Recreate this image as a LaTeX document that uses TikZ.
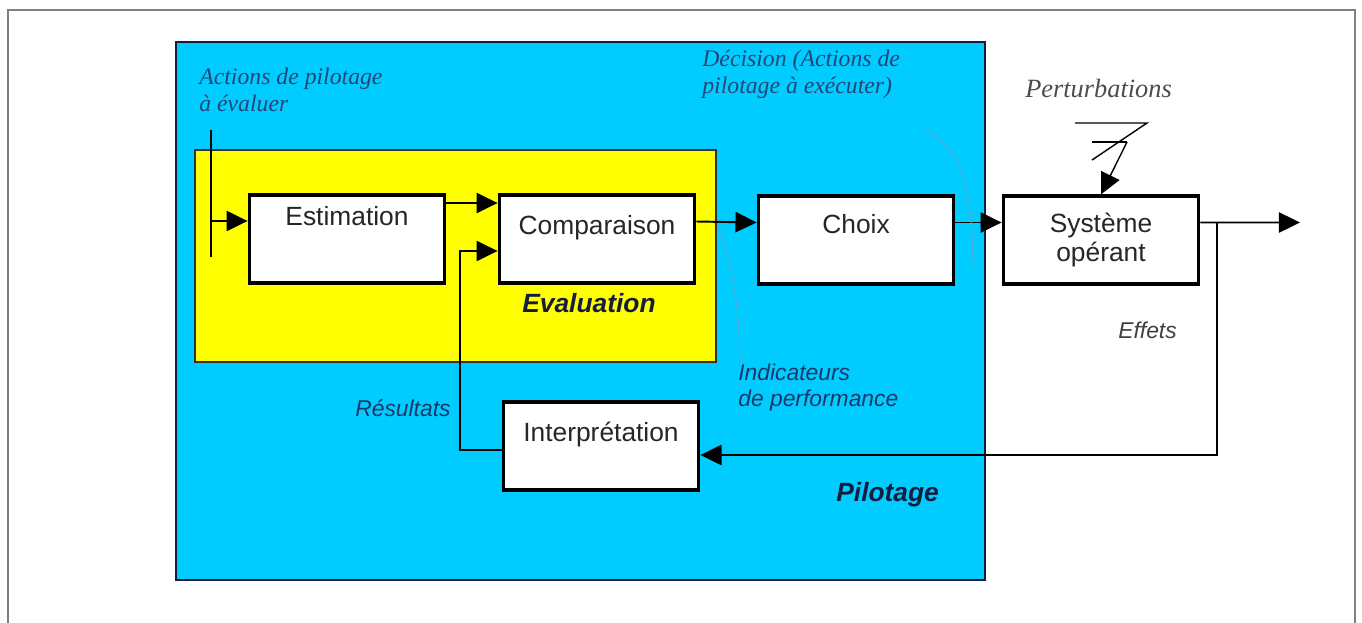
\documentclass[tikz,border=0pt]{standalone}
\usepackage{fontspec}
\setmainfont{Liberation Serif}
\setsansfont{Liberation Sans}
\usetikzlibrary{arrows.meta}

\definecolor{bleupilot}{RGB}{0,204,255}
\definecolor{jauneeval}{RGB}{255,255,0}
\definecolor{encre}{RGB}{35,70,120}
\definecolor{encresans}{RGB}{25,55,105}
\definecolor{marine}{RGB}{20,30,60}
\definecolor{filbleu}{RGB}{80,170,215}

\begin{document}
\begin{tikzpicture}[x=0.02cm, y=-0.02cm,
	boite/.style={draw=black, line width=2.2pt, fill=white, inner sep=0pt, minimum width=3.9cm, minimum height=1.75cm, text=black!85, font=\sffamily\fontsize{15}{16}\selectfont},
	bloc/.style={boite, text height=0.78cm, text depth=0.97cm},
	fleche/.style={-{Triangle[length=12pt, width=11.5pt]}, line width=1.1pt},
	trait/.style={line width=1.1pt},
	fil/.style={filbleu, line width=0.6pt},
	legende/.style={inner sep=0pt, font=\itshape\fontsize{13.5}{15.3}\selectfont, text=encre, align=left},
	note/.style={inner sep=0pt, font=\sffamily\itshape\fontsize{13}{14.7}\selectfont, text=encresans, align=left},
	titre/.style={inner sep=0pt, font=\sffamily\bfseries\itshape\fontsize{15}{16}\selectfont, text=marine}]

	\useasboundingbox (0,0) rectangle (1362,622);
	\draw[gray, line width=1.2pt] (8,10) rectangle (1355,660);
	\draw[fill=bleupilot, draw=marine, line width=1.2pt] (176,42) rectangle (985,580);
	\draw[fill=jauneeval, draw=black!80, line width=1pt] (195,150) rectangle (716,362);

	\node[bloc, text height=0.6cm, text depth=1.15cm] (estim) at (347,239) {Estimation};
	\node[bloc] (compa) at (597,239) {Comparaison};
	\node[bloc, text height=0.74cm, text depth=1.01cm] (choix) at (856,240) {Choix};
	\node[boite, align=center] (syst) at (1101,240) {Système\\opérant};
	\node[bloc] (interp) at (601,446) {Interprétation};

	\node[legende, anchor=north west] (actions) at (199,68) {Actions de pilotage\\à évaluer};
	\node[legende, anchor=north west] (decision) at (702,50) {Décision (Actions de\\pilotage à exécuter)};
	\node[legende, anchor=base west, text=black!70, font=\itshape\fontsize{15}{16}\selectfont] (perturb) at (1025,97) {Perturbations};
	\node[titre, anchor=base west] (evaluation) at (522,312) {Evaluation};
	\node[titre, anchor=base west] (pilotage) at (836,501) {Pilotage};
	\node[note, anchor=north west] (indic) at (738,364) {Indicateurs\\de performance};
	\node[note, anchor=base west] (resultats) at (355,416) {Résultats};
	\node[note, anchor=base west, text=black!75] (effets) at (1118,338) {Effets};

	\coordinate (hautentree) at (211,130);
	\coordinate (basentree) at (211,257);
	\coordinate (entree) at (211,221);
	\coordinate (sortie) at (1300,222.5);
	\coordinate (branche) at (1217,222.5);
	\coordinate (pert) at (1127,142);

	\draw[trait] (hautentree) -- (basentree);
	\draw[fleche] (entree) -- (entree -| estim.west);
	\draw[fleche] ([yshift=0.72cm]estim.east) -- ([yshift=0.72cm]compa.west);
	\draw[fleche] ([yshift=-0.08cm]interp.west) -- ++(-42,0) |- ([yshift=-0.24cm]compa.west);
	\draw[fleche] ([yshift=0.35cm]compa.east) -- ([yshift=0.35cm]choix.west);
	\draw[fleche] ([yshift=0.35cm]choix.east) -- ([yshift=0.35cm]syst.west);
	\draw[fleche] ([yshift=0.35cm]syst.east) -- (sortie);
	\draw[fleche] (branche) |- ([yshift=-0.18cm]interp.east);

	\draw[line width=0.8pt] (1075,123) -- (1147,123) -- (1092,160);
	\draw[line width=0.8pt] (1092,142) -- (pert);
	\draw[fleche, line width=0.8pt] (pert) -- (syst.north);

	\draw[fil] (718,226) .. controls (732,265) and (740,310) .. (740,362);
	\draw[fil] (925,130) .. controls (962,150) and (972,185) .. (973,265);

\end{tikzpicture}
\end{document}
